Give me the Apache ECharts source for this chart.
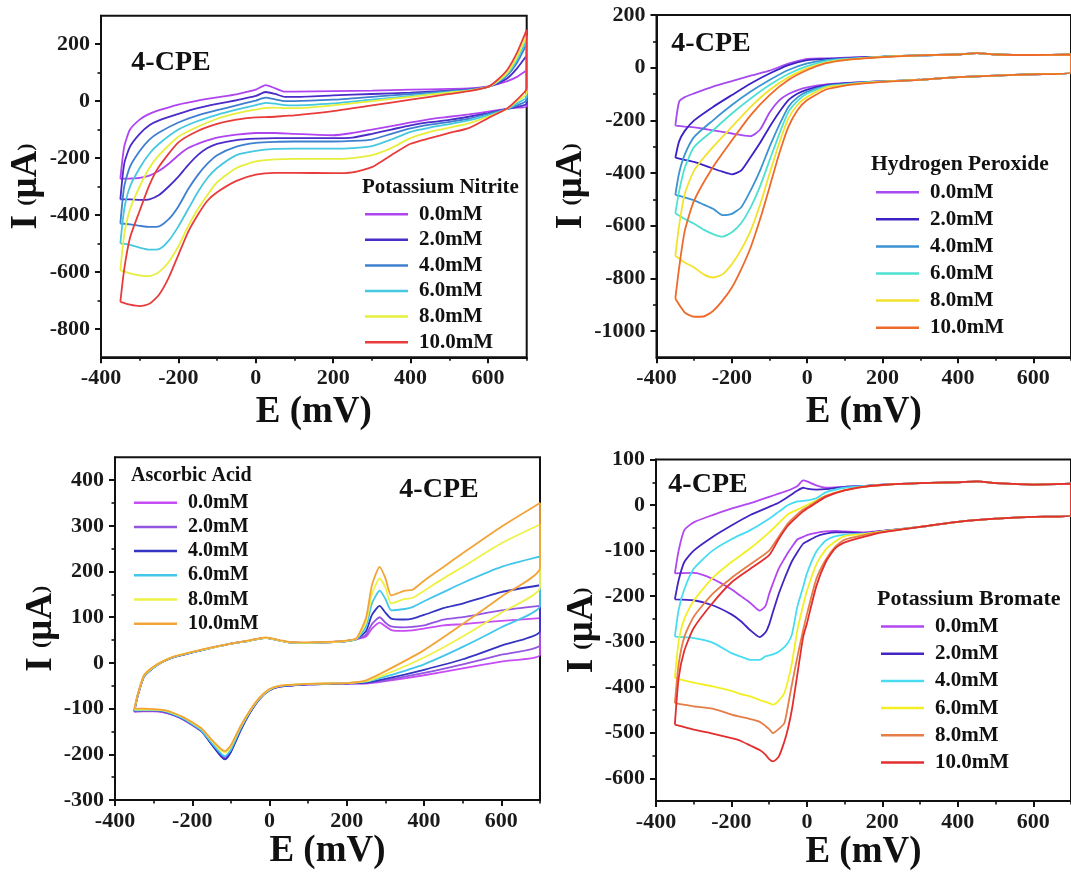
<!DOCTYPE html>
<html>
<head>
<meta charset="utf-8">
<script src="https://cdn.jsdelivr.net/npm/echarts@6/dist/echarts.min.js"></script>
<style>
html,body{margin:0;padding:0;background:#fff;}
#c{width:1071px;height:872px;}
</style>
</head>
<body>
<div id="c"></div>
<script>
// ---------- shared ----------
const CONC = ['0.0mM','2.0mM','4.0mM','6.0mM','8.0mM','10.0mM'];
const X_LABELS = [-400,-200,0,200,400,600];
const X_MINOR = [-300,-100,100,300,500,700];

// ---------- Panel 1: Potassium Nitrite ----------
const NIT_E_UP = [-350,-340,-325,-300,-275,-250,-200,-150,-100,-50,0,25,50,75,100,200,300,400,500,550,600,625,650,675,700];
const NIT_UP = [
  [-273,-160,-100,-65,-45,-32,-12,2,13,24,40,56,45,33,33,35,37,40,43,45,52,60,70,85,108],
  [-345,-220,-160,-115,-85,-68,-45,-25,-10,3,18,32,25,15,15,20,25,30,37,41,50,62,80,115,160],
  [-430,-300,-230,-175,-135,-110,-75,-50,-32,-15,2,12,6,0,0,5,15,25,35,40,50,65,90,135,200],
  [-500,-380,-300,-235,-185,-150,-100,-70,-48,-30,-14,-6,-9,-14,-15,-8,5,18,32,38,50,68,95,145,215],
  [-595,-470,-380,-300,-235,-190,-125,-90,-62,-43,-30,-24,-23,-25,-25,-15,0,15,30,37,50,70,100,155,230],
  [-705,-590,-480,-385,-295,-230,-145,-105,-80,-65,-57,-56,-55,-52,-50,-35,-15,5,25,35,50,75,110,170,250]
];
const NIT_E_DN = [-350,-325,-300,-275,-250,-225,-200,-175,-150,-125,-100,-50,0,50,100,200,250,300,350,400,450,500,550,600,650,675,700];
const NIT_DN = [
  [-273,-272,-270,-262,-245,-220,-190,-165,-150,-138,-128,-118,-112,-112,-115,-120,-112,-100,-88,-75,-63,-55,-47,-37,-27,-23,-18],
  [-345,-345,-347,-345,-330,-300,-265,-225,-190,-165,-150,-137,-132,-130,-130,-130,-128,-115,-100,-85,-74,-66,-55,-42,-27,-20,-8],
  [-430,-433,-438,-442,-440,-415,-370,-310,-260,-220,-190,-160,-147,-143,-142,-142,-140,-135,-115,-96,-83,-73,-62,-45,-27,-15,4],
  [-500,-505,-515,-522,-520,-490,-440,-380,-320,-270,-235,-190,-175,-168,-167,-167,-165,-158,-135,-108,-93,-81,-68,-50,-27,-8,15],
  [-595,-605,-612,-615,-600,-565,-510,-440,-380,-330,-285,-235,-212,-205,-203,-203,-200,-190,-165,-130,-108,-93,-78,-55,-27,0,28],
  [-705,-715,-720,-712,-680,-620,-540,-460,-400,-350,-320,-280,-258,-252,-252,-253,-250,-232,-190,-150,-130,-112,-95,-60,-25,5,45]
];
const NIT_COLORS = ['#b044f0','#4a2cc8','#3f7fd0','#45c8e0','#e6ef3c','#e83c3c'];
const NIT_Y_LABELS = [-800,-600,-400,-200,0,200];
const NIT_Y_MINOR = [-700,-500,-300,-100,100];

// ---------- Panel 2: Hydrogen Peroxide ----------
const HP_E_UP = [-350,-340,-325,-300,-250,-200,-150,-100,-50,0,50,100,150,200,300,400,450,500,600,700];
const HP_UP = [
  [-220,-130,-112,-98,-72,-51,-30,-11,15,33,35,38,40,42,47,50,55,50,48,50],
  [-342,-280,-240,-200,-149,-104,-60,-22,10,29,33,36,40,42,47,50,55,50,48,50],
  [-483,-400,-330,-263,-200,-142,-91,-47,-9,16,29,34,38,42,47,50,55,50,48,50],
  [-553,-470,-380,-301,-238,-174,-117,-66,-24,6,25,32,37,42,47,50,55,50,48,50],
  [-714,-600,-480,-390,-301,-225,-149,-85,-37,-3,19,30,36,41,47,50,55,50,48,50],
  [-877,-760,-620,-504,-377,-276,-180,-104,-47,-9,17,29,35,40,47,50,55,50,48,50]
];
const HP_E_DN = [-350,-325,-300,-275,-250,-225,-200,-175,-150,-125,-100,-75,-50,-25,0,50,100,150,200,300,400,500,600,700];
const HP_DN = [
  [-220,-224,-227,-232,-238,-244,-250,-256,-260,-235,-170,-125,-100,-85,-75,-64,-58,-55,-52,-46,-36,-30,-25,-18],
  [-342,-350,-358,-370,-383,-395,-405,-390,-339,-285,-225,-170,-123,-98,-83,-66,-60,-55,-52,-46,-36,-30,-25,-18],
  [-483,-493,-504,-520,-536,-560,-555,-530,-466,-390,-301,-220,-149,-112,-91,-70,-62,-56,-52,-46,-36,-30,-25,-18],
  [-553,-575,-593,-615,-632,-642,-625,-590,-530,-450,-352,-255,-168,-125,-98,-72,-64,-57,-53,-46,-36,-30,-25,-18],
  [-714,-740,-759,-785,-797,-785,-746,-690,-619,-520,-403,-290,-193,-140,-111,-75,-66,-58,-53,-46,-36,-30,-25,-18],
  [-877,-930,-946,-945,-924,-885,-835,-765,-682,-575,-454,-330,-225,-160,-123,-83,-68,-60,-54,-46,-36,-30,-25,-18]
];
const HP_COLORS = ['#a64bf0','#3b22c4','#3d92d2','#4ee0d0','#f2e22e','#ee6a2a'];
const HP_Y_LABELS = [-1000,-800,-600,-400,-200,0,200];
const HP_Y_MINOR = [-900,-700,-500,-300,-100,100];

// ---------- Panel 3: Ascorbic Acid ----------
const AA_E_UP = [-350,-345,-340,-325,-300,-275,-250,-200,-150,-100,-50,-10,25,50,100,150,200,225,250,265,285,300,315,350,370,400,450,500,600,700];
const AA_UP = [
  [-107,-85,-68,-30,-10,3,12,23,33,42,49,55,49,45,44,45,48,52,58,75,88,80,72,70,71,75,82,85,92,98],
  [-106,-85,-68,-30,-10,3,12,23,33,42,49,55,49,45,44,45,48,52,62,85,100,88,80,78,79,82,95,100,115,125],
  [-105,-85,-68,-30,-10,3,12,23,33,42,49,55,49,45,44,45,48,52,70,105,125,110,97,95,97,105,120,130,155,170],
  [-104,-84,-67,-29,-10,3,12,23,33,42,49,55,49,45,44,45,48,52,80,130,158,140,115,118,122,135,155,175,210,233],
  [-102,-83,-66,-28,-9,4,13,24,33,42,49,55,49,45,44,45,48,53,90,150,185,165,130,140,142,158,185,210,262,303],
  [-100,-82,-65,-27,-8,4,13,24,34,42,50,56,50,46,45,46,49,54,100,170,210,185,148,158,160,180,210,240,298,350]
];
const AA_E_DN = [-350,-325,-300,-275,-250,-225,-200,-175,-150,-125,-115,-100,-75,-50,-25,0,25,50,100,150,200,250,300,400,500,600,700];
const AA_DN = [
  [-107,-106,-106,-108,-114,-123,-136,-150,-176,-202,-208,-193,-146,-107,-78,-60,-52,-50,-47,-46,-45,-45,-40,-27,-12,3,18],
  [-106,-105,-105,-107,-114,-123,-136,-151,-178,-204,-210,-194,-147,-108,-78,-60,-52,-50,-47,-46,-45,-44,-38,-22,-3,18,40],
  [-105,-104,-104,-106,-113,-122,-135,-150,-178,-205,-211,-195,-148,-108,-78,-60,-52,-50,-47,-46,-45,-43,-35,-15,8,38,70],
  [-104,-103,-103,-105,-112,-121,-134,-149,-175,-199,-204,-190,-144,-106,-77,-59,-51,-49,-46,-45,-44,-41,-30,-3,35,78,125],
  [-102,-102,-102,-104,-110,-119,-131,-145,-170,-192,-196,-183,-140,-104,-76,-58,-50,-48,-46,-45,-44,-40,-25,12,58,110,165],
  [-100,-100,-101,-103,-109,-118,-130,-144,-168,-189,-193,-180,-138,-103,-75,-57,-50,-48,-46,-45,-44,-38,-18,28,85,145,208]
];
const AA_COLORS = ['#c64cf4','#9456e0','#3434c4','#44c6ea','#eef246','#f2a438'];
const AA_Y_LABELS = [-300,-200,-100,0,100,200,300,400];
const AA_Y_MINOR = [-250,-150,-50,50,150,250,350];

// ---------- Panel 4: Potassium Bromate ----------
const KB_E_UP = [-350,-340,-325,-300,-250,-200,-150,-100,-75,-50,-25,-10,0,25,50,100,150,200,300,400,450,500,600,700];
const KB_UP = [
  [-150,-100,-55,-38,-22,-8,4,18,25,32,42,54,52,43,38,40,42,45,48,50,52,48,45,47],
  [-207,-165,-125,-100,-70,-45,-22,-4,5,18,32,38,36,34,35,40,42,45,48,50,52,48,45,47],
  [-289,-230,-185,-140,-100,-75,-55,-30,-15,0,8,9,10,15,28,38,42,45,48,50,52,48,45,47],
  [-380,-300,-250,-210,-160,-125,-95,-60,-40,-20,-10,-4,0,10,20,33,40,44,48,50,52,48,45,47],
  [-435,-350,-290,-245,-195,-160,-130,-100,-70,-40,-20,-10,-5,8,20,33,40,44,48,50,52,48,45,47],
  [-482,-380,-320,-270,-215,-170,-140,-110,-75,-45,-25,-14,-8,5,18,32,40,44,48,50,52,48,45,47]
];
const KB_E_DN = [-350,-300,-250,-200,-175,-150,-125,-110,-100,-90,-75,-60,-50,-40,-25,-10,0,25,50,75,100,150,200,300,400,500,600,700];
const KB_DN = [
  [-150,-149,-162,-185,-200,-215,-232,-222,-195,-172,-140,-118,-104,-92,-75,-70,-66,-61,-58,-57,-58,-60,-57,-48,-37,-30,-26,-23],
  [-207,-209,-220,-240,-255,-275,-290,-280,-262,-235,-196,-163,-143,-124,-103,-85,-80,-69,-63,-60,-60,-62,-57,-48,-37,-30,-26,-23],
  [-289,-292,-302,-325,-333,-340,-340,-332,-330,-328,-322,-312,-302,-285,-222,-180,-150,-102,-78,-69,-65,-63,-58,-48,-37,-30,-26,-23],
  [-380,-390,-398,-408,-415,-420,-428,-432,-435,-438,-430,-413,-385,-348,-273,-220,-188,-130,-98,-80,-68,-64,-58,-48,-37,-30,-26,-23],
  [-435,-442,-447,-460,-465,-470,-476,-485,-492,-501,-492,-479,-440,-395,-332,-275,-240,-162,-120,-92,-76,-66,-59,-48,-37,-30,-26,-23],
  [-482,-493,-502,-512,-518,-528,-538,-548,-558,-563,-553,-520,-490,-450,-370,-290,-260,-178,-125,-95,-82,-70,-60,-48,-37,-30,-26,-23]
];
const KB_COLORS = ['#b246f0','#4424c2','#48dcf2','#f2f024','#e47e46','#e22e2e'];
const KB_Y_LABELS = [-600,-500,-400,-300,-200,-100,0,100];
const KB_Y_MINOR = [-550,-450,-350,-250,-150,-50,50];

// ---------- layout ----------
const FONT = '"Liberation Serif","Times New Roman",serif';
const PANELS = [
  {key:'NIT', title:'Potassium Nitrite', eUp:NIT_E_UP, up:NIT_UP, eDn:NIT_E_DN, dn:NIT_DN, colors:NIT_COLORS,
   yMin:-900, yMax:300, yLabels:NIT_Y_LABELS, yMinor:NIT_Y_MINOR,
   grid:{left:101, top:15.7, width:425.7, height:341.6}, xNameGap:37, yNameGap:56,
   legend:{left:360, top:198.7, gap:4.6, font:21}, ltitle:{x:362, y:188, size:21},
   cpe:{x:171, y:63}},
  {key:'HP', title:'Hydrogen Peroxide', eUp:HP_E_UP, up:HP_UP, eDn:HP_E_DN, dn:HP_DN, colors:HP_COLORS,
   yMin:-1100, yMax:200, yLabels:HP_Y_LABELS, yMinor:HP_Y_MINOR,
   grid:{left:656.5, top:15, width:423, height:342.3}, xNameGap:37, yNameGap:55,
   legend:{left:871, top:176.7, gap:6.1, font:21}, ltitle:{x:871, y:164.3, size:21.5},
   cpe:{x:711, y:44}},
  {key:'AA', title:'Ascorbic Acid', eUp:AA_E_UP, up:AA_UP, eDn:AA_E_DN, dn:AA_DN, colors:AA_COLORS,
   yMin:-300, yMax:450, yLabels:AA_Y_LABELS, yMinor:AA_Y_MINOR,
   grid:{left:115, top:457.3, width:425, height:342.7}, xNameGap:33, yNameGap:48,
   legend:{left:129, top:487.7, gap:4.2, font:20}, ltitle:{x:131, y:476, size:20},
   cpe:{x:439, y:490}},
  {key:'KB', title:'Potassium Bromate', eUp:KB_E_UP, up:KB_UP, eDn:KB_E_DN, dn:KB_DN, colors:KB_COLORS,
   yMin:-650, yMax:100, yLabels:KB_Y_LABELS, yMinor:KB_Y_MINOR,
   grid:{left:656, top:459.5, width:425, height:342.2}, xNameGap:32, yNameGap:54,
   legend:{left:876, top:611, gap:6.2, font:21}, ltitle:{x:877, y:599.3, size:22},
   cpe:{x:708, y:485}}
];

function loopPoints(eUp, up, eDn, dn) {
  const pts = eUp.map((e, i) => [e, up[i]]);
  for (let i = eDn.length - 1; i >= 0; i--) pts.push([eDn[i], dn[i]]);
  pts.push([eUp[0], up[0]]);
  return pts;
}

const grids = [], xAxes = [], yAxes = [], series = [], legends = [], graphics = [];
const labelStyle = {fontFamily: FONT, fontWeight: 'bold', fontSize: 22, color: '#1a1a1a', formatter: v => String(v)};

PANELS.forEach((p, pi) => {
  grids.push(Object.assign({show: true, borderColor: '#111', borderWidth: 2, backgroundColor: 'transparent'}, p.grid));
  // main x axis
  xAxes.push({
    type: 'value', gridIndex: pi, min: -400, max: 700, position: 'bottom',
    name: 'E (mV)', nameLocation: 'middle', nameGap: p.xNameGap,
    nameTextStyle: {fontFamily: FONT, fontWeight: 'bold', fontSize: 37, color: '#111'},
    axisLine: {show: true, onZero: false, lineStyle: {color: '#111', width: 2}},
    axisTick: {show: true, length: 6, lineStyle: {color: '#111', width: 2}, customValues: X_LABELS},
    axisLabel: Object.assign({margin: 10, customValues: X_LABELS}, labelStyle),
    splitLine: {show: false}
  });
  // minor x ticks
  xAxes.push({
    type: 'value', gridIndex: pi, min: -400, max: 700, position: 'bottom',
    axisLine: {show: false, onZero: false},
    axisTick: {show: true, length: 3.5, lineStyle: {color: '#111', width: 1.6}, customValues: X_MINOR},
    axisLabel: {show: false}, splitLine: {show: false}
  });
  // main y axis
  yAxes.push({
    type: 'value', gridIndex: pi, min: p.yMin, max: p.yMax, position: 'left',
    name: '{a|I }{b|(}{a|μA}{b|)}', nameLocation: 'middle', nameGap: p.yNameGap,
    nameTextStyle: {rich: {
      a: {fontFamily: FONT, fontWeight: 'bold', fontSize: 37, color: '#111'},
      b: {fontFamily: FONT, fontWeight: 'bold', fontSize: 22, color: '#111'}
    }},
    axisLine: {show: true, onZero: false, lineStyle: {color: '#111', width: 2}},
    axisTick: {show: true, length: 6, lineStyle: {color: '#111', width: 2}, customValues: p.yLabels},
    axisLabel: Object.assign({margin: 11, customValues: p.yLabels}, labelStyle),
    splitLine: {show: false}
  });
  // minor y ticks
  yAxes.push({
    type: 'value', gridIndex: pi, min: p.yMin, max: p.yMax, position: 'left',
    axisLine: {show: false, onZero: false},
    axisTick: {show: true, length: 3.5, lineStyle: {color: '#111', width: 1.6}, customValues: p.yMinor},
    axisLabel: {show: false}, splitLine: {show: false}
  });

  const names = [];
  CONC.forEach((c, ci) => {
    const nm = p.key + '|' + c;
    names.push(nm);
    series.push({
      type: 'line', name: nm, xAxisIndex: pi * 2, yAxisIndex: pi * 2,
      data: loopPoints(p.eUp, p.up[ci], p.eDn, p.dn[ci]),
      showSymbol: false, symbol: 'none', smooth: 0.2, clip: true,
      lineStyle: {color: p.colors[ci], width: 1.8},
      itemStyle: {color: p.colors[ci]},
      emphasis: {disabled: true}, animation: false
    });
  });

  legends.push({
    data: names, orient: 'vertical', left: p.legend.left, top: p.legend.top,
    icon: 'rect', itemWidth: 43, itemHeight: 2.5, itemGap: p.legend.gap,
    formatter: n => n.split('|')[1], selectedMode: false,
    textStyle: {fontFamily: FONT, fontWeight: 'bold', fontSize: p.legend.font, lineHeight: 20, color: '#111', padding: [0, 0, 0, 6]}
  });

  graphics.push({
    type: 'text', x: p.ltitle.x, y: p.ltitle.y,
    style: {text: p.title, align: 'left', verticalAlign: 'middle', fill: '#111',
            fontFamily: FONT, fontWeight: 'bold', fontSize: p.ltitle.size}
  });
  graphics.push({
    type: 'text', x: p.cpe.x, y: p.cpe.y,
    style: {text: '4-CPE', align: 'center', verticalAlign: 'middle', fill: '#111',
            fontFamily: FONT, fontWeight: 'bold', fontSize: 28}
  });
});

const chart = echarts.init(document.getElementById('c'), null, {renderer: 'canvas'});
chart.setOption({
  backgroundColor: '#fff',
  animation: false,
  grid: grids, xAxis: xAxes, yAxis: yAxes,
  series: series, legend: legends, graphic: graphics
});
</script>
</body>
</html>
